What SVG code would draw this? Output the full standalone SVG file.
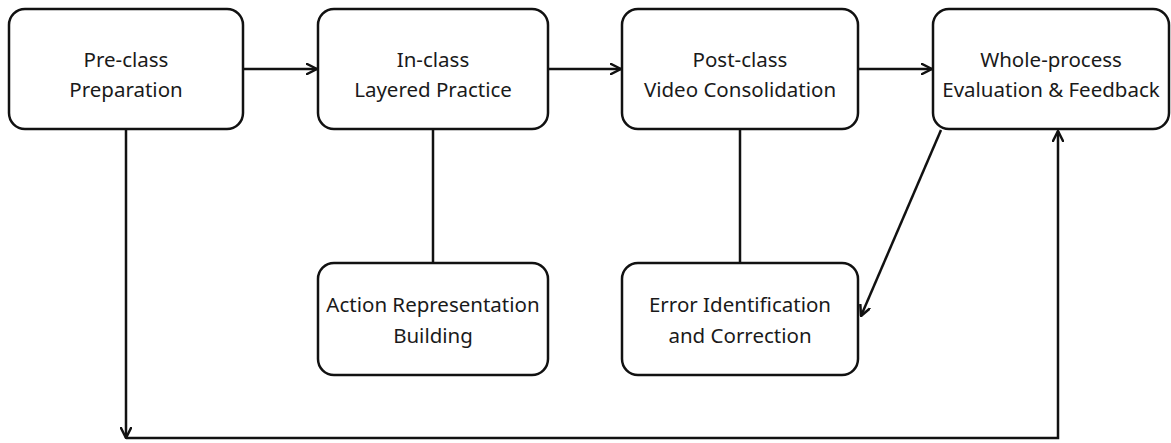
<svg xmlns="http://www.w3.org/2000/svg" width="1171" height="443" viewBox="0 0 1171 443">
<defs>
<marker id="arr" viewBox="0 0 12 12" refX="11" refY="6" markerWidth="12" markerHeight="12" markerUnits="userSpaceOnUse" orient="auto">
<path d="M1,1 L11,6 L1,11" fill="none" stroke="#111" stroke-width="2.5" stroke-linecap="round" stroke-linejoin="round"/>
</marker>
</defs>
<style>
.box{fill:#fff;stroke:#111;stroke-width:2.5}
.t{font-family:"Noto Sans","Open Sans",sans-serif;font-size:20.5px;fill:#1a1a1a;text-anchor:middle}
.c{fill:none;stroke:#111;stroke-width:2.5}
</style>
<rect width="1171" height="443" fill="#fff"/>
<g id="connectors">
<line class="c" x1="243" y1="69" x2="317" y2="69" marker-end="url(#arr)"/>
<line class="c" x1="548" y1="69" x2="621" y2="69" marker-end="url(#arr)"/>
<line class="c" x1="858" y1="69" x2="932" y2="69" marker-end="url(#arr)"/>
<line class="c" x1="433" y1="129" x2="433" y2="263"/>
<line class="c" x1="740" y1="129" x2="740" y2="263"/>
<line class="c" x1="941" y1="130" x2="861" y2="316" marker-end="url(#arr)"/>
<line class="c" x1="126" y1="129" x2="126" y2="438" marker-end="url(#arr)"/>
<polyline class="c" points="126,438 1058,438 1058,131" marker-end="url(#arr)"/>
</g>
<g id="n1"><rect class="box" x="9" y="9" width="234" height="120" rx="16"/><text class="t" x="126" y="67">Pre-class</text><text class="t" x="126" y="97">Preparation</text></g>
<g id="n2"><rect class="box" x="318" y="9" width="230" height="120" rx="16"/><text class="t" x="433" y="67">In-class</text><text class="t" x="433" y="97">Layered Practice</text></g>
<g id="n3"><rect class="box" x="622" y="9" width="236" height="120" rx="16"/><text class="t" x="740" y="67">Post-class</text><text class="t" x="740" y="97">Video Consolidation</text></g>
<g id="n4"><rect class="box" x="933" y="9" width="236" height="120" rx="16"/><text class="t" x="1051" y="67">Whole-process</text><text class="t" x="1051" y="97">Evaluation &amp; Feedback</text></g>
<g id="n5"><rect class="box" x="318" y="263" width="230" height="112" rx="16"/><text class="t" x="433" y="312">Action Representation</text><text class="t" x="433" y="343">Building</text></g>
<g id="n6"><rect class="box" x="622" y="263" width="236" height="112" rx="16"/><text class="t" x="740" y="312">Error Identification</text><text class="t" x="740" y="343">and Correction</text></g>
</svg>
